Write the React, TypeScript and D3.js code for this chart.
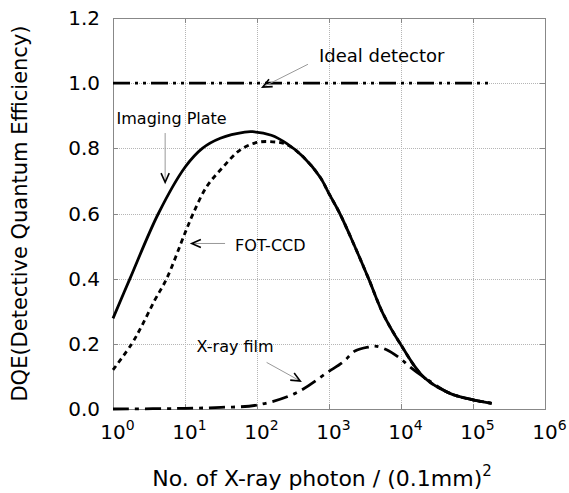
import { useEffect, useRef } from 'react'
import * as d3 from 'd3'

// values (x = photons per (0.1mm)^2, y = DQE)
const ipPhotons = [1, 1.72, 4.27, 10, 17.4, 30.9, 67.6, 87.1, 158, 257, 437, 750, 1000, 1413, 2188, 3548, 5623, 9772, 20417, 47863, 100000, 181970]
const ipDqe = [0.278, 0.4, 0.6, 0.742, 0.8, 0.831, 0.85, 0.851, 0.84, 0.815, 0.774, 0.712, 0.661, 0.6, 0.508, 0.4, 0.293, 0.2, 0.099, 0.048, 0.028, 0.0175]

const ccdPhotons = [1, 1.82, 2.51, 3.8, 5.56, 10, 13, 19.95, 33.9, 57.5, 100, 166, 257, 437, 750, 1000, 1413, 2188, 3548, 5623, 9772, 20417, 47863, 100000, 181970]
const ccdDqe = [0.12, 0.2, 0.255, 0.334, 0.4, 0.54, 0.6, 0.682, 0.743, 0.794, 0.818, 0.82, 0.812, 0.774, 0.712, 0.661, 0.6, 0.508, 0.4, 0.293, 0.2, 0.099, 0.048, 0.028, 0.0175]

const filmPhotons = [1, 10, 31.6, 100, 339, 977, 1585, 2291, 3715, 4365, 6310, 9772, 13183, 20417, 47863, 100000, 181970]
const filmDqe = [0, 0.002, 0.005, 0.012, 0.048, 0.114, 0.145, 0.178, 0.191, 0.193, 0.182, 0.155, 0.13, 0.099, 0.048, 0.028, 0.0175]

const idealPhotons = [1, 174000]
const idealDqe = [1, 1]

const xTickExps = [0, 1, 2, 3, 4, 5, 6]
const yTicks = [0, 0.2, 0.4, 0.6, 0.8, 1.0, 1.2]

const labels = [
  { text: 'Ideal detector', x: 724, y: 1.064, size: 18 },
  { text: 'Imaging Plate', x: 1.12, y: 0.874, size: 16 },
  { text: 'FOT-CCD', x: 49.5, y: 0.485, size: 16 },
  { text: 'X-ray film', x: 14.5, y: 0.175, size: 16 },
]
const arrows = [
  { from: [510, 1.058], to: [120, 0.988] },
  { from: [5.3, 0.847], to: [5.3, 0.696] },
  { from: [36, 0.508], to: [12.4, 0.508] },
  { from: [136, 0.143], to: [398, 0.086] },
]

export default function App() {
  const ref = useRef<SVGSVGElement>(null)

  useEffect(() => {
    if (!ref.current) return
    const width = 569
    const height = 493
    const margin = { top: 18, right: 24, bottom: 84, left: 113 }

    const svg = d3.select(ref.current)
    svg.selectAll('*').remove()

    const x = d3.scaleLog().domain([1, 1e6]).range([margin.left, width - margin.right])
    const y = d3.scaleLinear().domain([0, 1.2]).range([height - margin.bottom, margin.top])
    const font = '"DejaVu Sans", Verdana, sans-serif'

    // grid
    const grid = svg.append('g').attr('stroke', '#b5b5b5').attr('stroke-width', 1).attr('stroke-dasharray', '1,1')
    grid
      .selectAll('line.v')
      .data(xTickExps.slice(1, -1))
      .join('line')
      .attr('x1', (e) => Math.round(x(10 ** e)) + 0.5)
      .attr('x2', (e) => Math.round(x(10 ** e)) + 0.5)
      .attr('y1', y(1.2))
      .attr('y2', y(0))
    grid
      .selectAll('line.h')
      .data(yTicks.slice(1, -1))
      .join('line')
      .attr('x1', x(1))
      .attr('x2', x(1e6))
      .attr('y1', (d) => Math.round(y(d)) + 0.5)
      .attr('y2', (d) => Math.round(y(d)) + 0.5)

    // frame and inward ticks
    svg
      .append('rect')
      .attr('x', Math.round(x(1)) + 0.5)
      .attr('y', Math.round(y(1.2)) + 0.5)
      .attr('width', Math.round(x(1e6)) - Math.round(x(1)))
      .attr('height', Math.round(y(0)) - Math.round(y(1.2)))
      .attr('fill', 'none')
      .attr('stroke', '#888')
    const ticks = svg.append('g').attr('stroke', '#888')
    yTicks.forEach((d) => {
      const yy = Math.round(y(d)) + 0.5
      ticks.append('line').attr('x1', x(1)).attr('x2', x(1) + 5).attr('y1', yy).attr('y2', yy)
      ticks.append('line').attr('x1', x(1e6)).attr('x2', x(1e6) - 5).attr('y1', yy).attr('y2', yy)
    })
    xTickExps.forEach((e) => {
      const xx = Math.round(x(10 ** e)) + 0.5
      ticks.append('line').attr('x1', xx).attr('x2', xx).attr('y1', y(0)).attr('y2', y(0) - 5)
      ticks.append('line').attr('x1', xx).attr('x2', xx).attr('y1', y(1.2)).attr('y2', y(1.2) + 5)
    })

    // tick labels
    svg
      .append('g')
      .selectAll('text')
      .data(yTicks)
      .join('text')
      .attr('x', x(1) - 13)
      .attr('y', (d) => y(d) + 7)
      .attr('text-anchor', 'end')
      .style('font-family', font)
      .style('font-size', '20px')
      .text((d) => d.toFixed(1))

    const xl = svg
      .append('g')
      .selectAll('text')
      .data(xTickExps)
      .join('text')
      .attr('x', (e) => x(10 ** e) - 12.7)
      .attr('y', y(0) + 30)
      .style('font-family', font)
      .style('font-size', '20px')
    xl.append('tspan').text('10')
    xl.append('tspan').attr('dy', -9).style('font-size', '14px').text((e) => String(e))

    // axis titles
    const xt = svg
      .append('text')
      .attr('x', (x(1) + x(1e6)) / 2 - 7)
      .attr('y', 486)
      .attr('text-anchor', 'middle')
      .style('font-family', font)
      .style('font-size', '22px')
    xt.append('tspan').text('No. of X-ray photon / (0.1mm)')
    xt.append('tspan').attr('dy', -10).style('font-size', '15px').text('2')

    svg
      .append('text')
      .attr('transform', `translate(27,${(y(0) + y(1.2)) / 2}) rotate(-90)`)
      .attr('text-anchor', 'middle')
      .style('font-family', font)
      .style('font-size', '21px')
      .text('DQE(Detective Quantum Efficiency)')

    // curves
    const line = d3
      .line<[number, number]>()
      .x((d) => x(d[0]))
      .y((d) => y(d[1]))
      .curve(d3.curveCatmullRom.alpha(0.5))
    const series = [
      { xs: idealPhotons, ys: idealDqe, dash: '17,5,3,5,3,5' },
      { xs: filmPhotons, ys: filmDqe, dash: '16,6,4,6' },
      { xs: ipPhotons, ys: ipDqe, dash: null },
      { xs: ccdPhotons, ys: ccdDqe, dash: '5,4' },
    ]
    series.forEach((s) => {
      svg
        .append('path')
        .datum(s.xs.map((v, i) => [v, s.ys[i]] as [number, number]))
        .attr('d', line)
        .attr('fill', 'none')
        .attr('stroke', '#000')
        .attr('stroke-width', 2.8)
        .attr('stroke-dasharray', s.dash)
    })

    // annotations
    svg
      .append('g')
      .selectAll('text')
      .data(labels)
      .join('text')
      .attr('x', (d) => x(d.x))
      .attr('y', (d) => y(d.y))
      .style('font-family', font)
      .style('font-size', (d) => `${d.size}px`)
      .text((d) => d.text)

    arrows.forEach((a) => {
      const x1 = x(a.from[0])
      const y1 = y(a.from[1])
      const x2 = x(a.to[0])
      const y2 = y(a.to[1])
      svg.append('line').attr('x1', x1).attr('y1', y1).attr('x2', x2).attr('y2', y2).attr('stroke', '#999').attr('stroke-width', 1)
      const ang = Math.atan2(y2 - y1, x2 - x1)
      const len = 10
      const spread = 0.42
      const p1 = [x2 - len * Math.cos(ang - spread), y2 - len * Math.sin(ang - spread)]
      const p2 = [x2 - len * Math.cos(ang + spread), y2 - len * Math.sin(ang + spread)]
      svg
        .append('path')
        .attr('d', `M${p1[0]},${p1[1]}L${x2},${y2}L${p2[0]},${p2[1]}`)
        .attr('fill', 'none')
        .attr('stroke', '#000')
        .attr('stroke-width', 1.6)
    })
  }, [])

  return <svg ref={ref} width={569} height={493} style={{ position: 'absolute', left: 0, top: 0, background: '#fff' }} />
}
